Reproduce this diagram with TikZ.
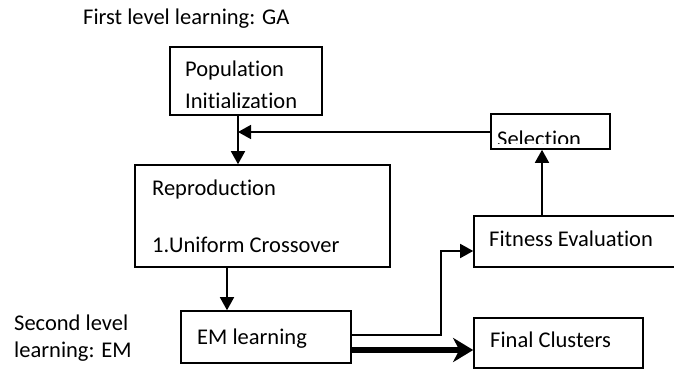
\documentclass[tikz,border=0pt]{standalone}
\usepackage{fontspec}
\setmainfont{Carlito}[RawFeature=-liga]
\usetikzlibrary{arrows.meta}
\begin{document}
\begin{tikzpicture}[x=1pt,y=-1pt,
  box/.style={draw,line width=1.6pt,inner sep=0pt,minimum width=#1},
  lbl/.style={anchor=base west,inner sep=0pt,font=\fontsize{22.5}{27}\selectfont},
  conn/.style={line width=1.6pt,-{Triangle[length=13pt,width=14pt]}},
  thick conn/.style={line width=6.5pt,-{Stealth[length=20pt,width=24pt,inset=6pt]}}]
\useasboundingbox (0,0) rectangle (674,370);
% boxes
\node[box=152pt,minimum height=68pt] (pop) at (246,81) {};
\node[box=255pt,minimum height=102pt] (rep) at (262.5,216) {};
\node[box=170pt,minimum height=52pt] (em) at (266,337) {};
\node[box=119pt,minimum height=35pt] (sel) at (550.5,131.5) {};
\node[box=220pt,minimum height=51pt] (fit) at (584,241.5) {};
\node[box=169pt,minimum height=50pt] (fin) at (558.5,343) {};
% texts
\node[lbl] (t1) at (83,24) {First level learning: GA};
\begin{scope}
  \clip (170,47) rectangle (322,107);
  \node[lbl] (tpop) at (185,76) {Population};
  \node[lbl] (tini) at (185,108) {Initialization};
\end{scope}
\node[lbl] (trep) at (152,195) {Reproduction};
\node[lbl] (tuni) at (152,252) {1.Uniform Crossover};
\node[lbl] (tsec) at (14,330) {Second level};
\begin{scope}
  \clip (0,336) rectangle (170,360);
  \node[lbl] (tlem) at (14,357) {learning: EM};
\end{scope}
\node[lbl] (tem) at (197,344) {EM learning};
\begin{scope}
  \clip (491,114) rectangle (610,143);
  \node[lbl] (tsel) at (497,146) {Selection};
\end{scope}
\node[lbl] (tfit) at (489,246) {Fitness Evaluation};
\node[lbl] (tfin) at (490,347) {Final Clusters};
% connectors
\coordinate (j) at (238,132);
\coordinate (r) at (227,290);
\coordinate (k) at (441,251);
\coordinate (s) at (542,180);
\draw[conn] (pop.south -| j) -- (rep.north -| j);
\draw[conn] (sel.west |- j) -- (j);
\draw[conn] (rep.south -| r) -- (em.north -| r);
\draw[conn] ([yshift=2pt]em.east) -| (k) -- (k -| fit.west);
\draw[conn] (fit.north -| s) -- (sel.south -| s);
\draw[thick conn] ([yshift=-13pt]em.east) -- ([yshift=-13pt]em.east -| fin.west);
\end{tikzpicture}
\end{document}
